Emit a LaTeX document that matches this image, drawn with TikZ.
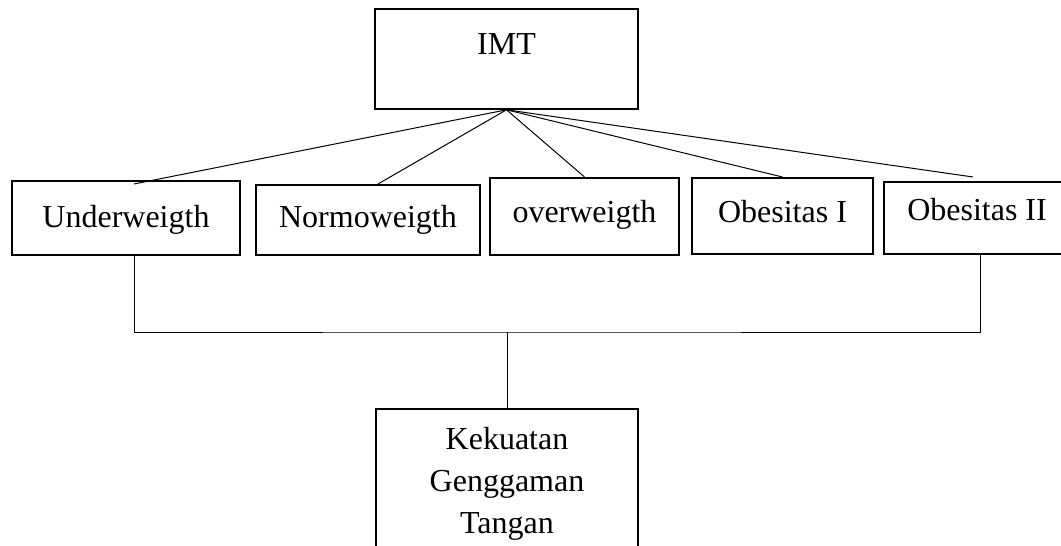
\documentclass[tikz,border=0pt]{standalone}
\usepackage{fontspec}
\setmainfont{Liberation Serif}
\begin{document}
\begin{tikzpicture}[x=1pt,y=-1pt,
  box/.style={draw, line width=1.8pt, inner xsep=0pt, inner ysep=0pt, anchor=north,
    font=\fontsize{32}{42}\selectfont},
  link/.style={line width=1pt}]
\useasboundingbox (0,0) rectangle (1061,546);
\clip (0,0) rectangle (1061,546);
\node[box, minimum width=263pt, text height=46pt, text depth=54pt] (imt) at (506.5,8) {IMT};
\node[box, minimum width=228pt, text height=47pt, text depth=27pt] (uw) at (126,180) {Underweigth};
\node[box, minimum width=224pt, text height=43pt, text depth=27pt] (nw) at (368,184) {Normoweigth};
\node[box, minimum width=189pt, text height=45pt, text depth=32pt] (ow) at (584.5,177) {overweigth};
\node[box, minimum width=181pt, text height=45pt, text depth=31pt] (o1) at (782.5,177) {Obesitas I};
\node[box, minimum width=186pt, text height=39pt, text depth=33pt] (o2) at (977,181) {Obesitas II};
\node[box, minimum width=262pt, inner ysep=18pt, align=center] (kg) at (507,408) {Kekuatan\\Genggaman\\Tangan};
\coordinate (bar) at (507,332);
\draw[link] (imt.south) -- ([xshift=8pt,yshift=-4pt]uw.north);
\draw[link] (imt.south) -- ([xshift=10pt]nw.north);
\draw[link] (imt.south) -- (ow.north);
\draw[link] (imt.south) -- (o1.north);
\draw[link] (imt.south) -- ([xshift=-4pt,yshift=4pt]o2.north);
\draw[link] ([xshift=8pt]uw.south) |- (bar) -| ([xshift=3pt]o2.south);
\draw[link] (bar) -- (kg.north);
\end{tikzpicture}
\end{document}
